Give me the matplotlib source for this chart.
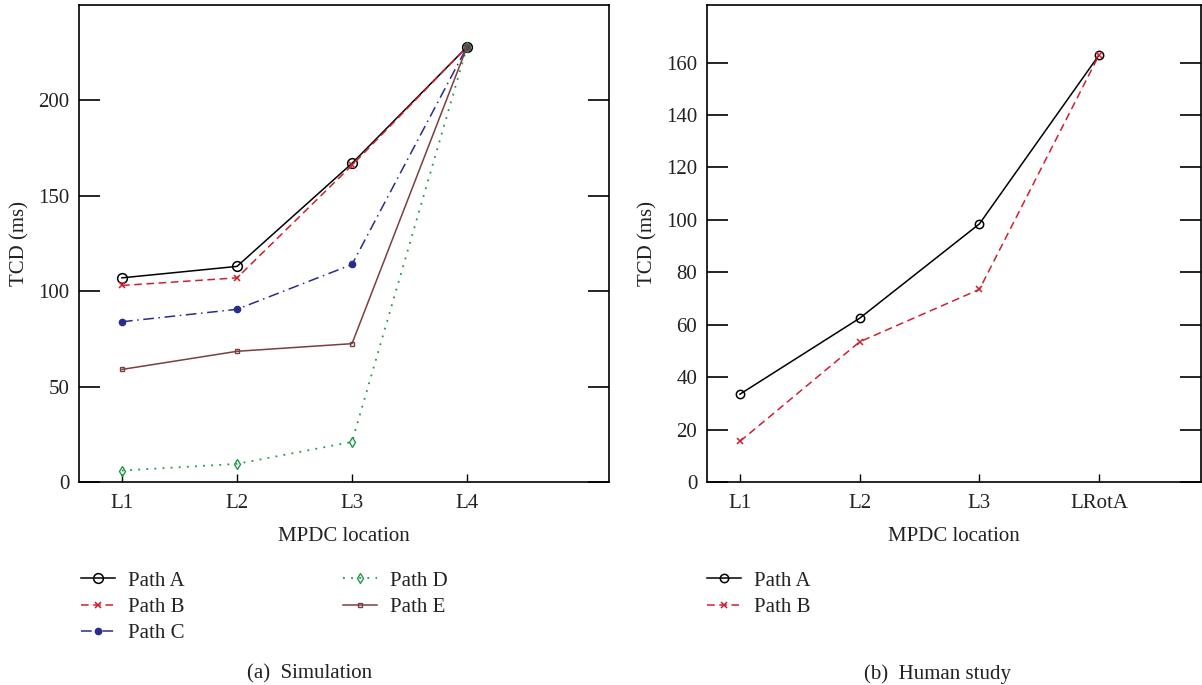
import matplotlib.pyplot as plt

plt.rcParams['font.family'] = ['Liberation Serif', 'DejaVu Serif']
plt.rcParams['font.size'] = 15

# (a) Simulation
sim_locations = ['L1', 'L2', 'L3', 'L4']
sim_path_a = [107, 113, 167, 228]
sim_path_b = [103, 107, 166, 228]
sim_path_c = [84, 90.5, 114, 228]
sim_path_d = [6, 9.5, 21, 228]
sim_path_e = [59, 68.5, 72.5, 228]

# (b) Human study
hum_locations = ['L1', 'L2', 'L3', 'LRotA']
hum_path_a = [33.5, 62.5, 98.5, 163]
hum_path_b = [15.5, 53.5, 73.5, 163]

red = '#d0202e'
navy = '#2a2c8c'
green = '#1f9a45'
brown = '#7b3f3f'
txt = '#222222'

fig = plt.figure(figsize=(12.02, 6.85), dpi=100)
ax1 = fig.add_axes([79 / 1202, 203 / 685, 530 / 1202, 477 / 685])
ax2 = fig.add_axes([707 / 1202, 203 / 685, 494 / 1202, 477 / 685])

xs = [1, 2, 3, 4]

ax1.plot(xs, sim_path_a, color='black', ls='-', lw=1.1, marker='o', ms=7,
         mfc='none', mew=1.1, label='Path A')
ax1.plot(xs, sim_path_b, color=red, ls=(0, (5, 3)), lw=1.1, marker='x', ms=4,
         mew=1.1, label='Path B')
ax1.plot(xs, sim_path_c, color=navy, ls=(0, (7, 3, 1, 3)), lw=1.1, marker='o',
         ms=4.5, label='Path C')
ax1.plot(xs, sim_path_d, color=green, ls=(0, (1, 3.5)), lw=1.3, marker='d', ms=5,
         mfc='none', mew=1.0, label='Path D')
ax1.plot(xs, sim_path_e, color=brown, ls='-', lw=1.1, marker='s', ms=3.5,
         mfc='none', mew=1.0, label='Path E')

ax2.plot(xs, hum_path_a, color='black', ls='-', lw=1.1, marker='o', ms=6,
         mfc='none', mew=1.1, label='Path A')
ax2.plot(xs, hum_path_b, color=red, ls=(0, (5, 3)), lw=1.1, marker='x', ms=4,
         mew=1.1, label='Path B')

ax1.set_xlim(0.626, 5.235)
ax1.set_ylim(0, 250)
ax1.set_yticks([0, 50, 100, 150, 200])
ax1.set_xticks(xs)
ax1.set_xticklabels(sim_locations)

ax2.set_xlim(0.725, 4.85)
ax2.set_ylim(0, 182)
ax2.set_yticks(range(0, 161, 20))
ax2.set_xticks(xs)
ax2.set_xticklabels(hum_locations)

for ax in (ax1, ax2):
    ax.tick_params(axis='y', direction='in', length=15, width=1.2, right=True,
                   labelsize=15, color='black', labelcolor=txt, pad=7)
    ax.tick_params(axis='x', direction='in', length=6, width=1, labelsize=15,
                   labelcolor=txt, pad=9)
    for s in ax.spines.values():
        s.set_linewidth(1.2)
    ax.set_ylabel('TCD (ms)', fontsize=15, color=txt)
    ax.set_xlabel('MPDC location', fontsize=15, color=txt, labelpad=10)

ax1.yaxis.set_label_coords(-50 / 530, 0.5)
ax2.yaxis.set_label_coords(-50 / 494, 0.5)

leg_kw = dict(loc='upper left', frameon=False, fontsize=15, handlelength=1.63,
              handletextpad=0.63, labelspacing=0.33, labelcolor=txt,
              borderaxespad=0, borderpad=0)
fig.legend(*ax1.get_legend_handles_labels(), ncol=2, columnspacing=7.6,
           bbox_to_anchor=(81 / 1202, 1 - 571 / 685), **leg_kw)
fig.legend(*ax2.get_legend_handles_labels(), ncol=1,
           bbox_to_anchor=(707 / 1202, 1 - 571 / 685), **leg_kw)

fig.text(310 / 1202, 1 - 674 / 685, '(a)  Simulation', ha='center', va='center',
         fontsize=15, color=txt)
fig.text(937 / 1202, 1 - 674 / 685, '(b)  Human study', ha='center',
         va='center', fontsize=15, color=txt)

fig.savefig('out.png', dpi=100)
